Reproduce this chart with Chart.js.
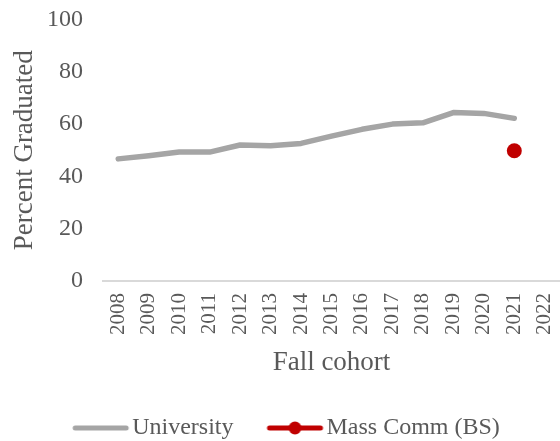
<!DOCTYPE html>
<html lang="en">
<head>
    <meta charset="UTF-8">
    <title>Percent Graduated by Fall cohort</title>
    <script src="https://cdn.jsdelivr.net/npm/chart.js"></script>
    <style>
        * { margin: 0; padding: 0; box-sizing: border-box; }
        body { background: #fff; }
        .wrap { width: 560px; height: 441px; position: relative; }
    </style>
</head>
<body>
    <div class="wrap">
        <canvas id="gradChart"></canvas>
    </div>

    <script>
        // values
        const cohorts = ['2008', '2009', '2010', '2011', '2012', '2013', '2014', '2015',
                         '2016', '2017', '2018', '2019', '2020', '2021', '2022'];
        const university = [46.7, 47.9, 49.3, 49.3, 52.0, 51.7, 52.6, 55.4,
                            58.0, 60.0, 60.5, 64.4, 64.1, 62.2, null];
        const massComm = [null, null, null, null, null, null, null, null,
                          null, null, null, null, null, 49.8, null];
        const yTicks = [0, 20, 40, 60, 80, 100];

        const grey = '#A5A5A5';
        const red = '#C00000';
        const textColor = '#595959';
        const serif = "'Liberation Serif', 'Times New Roman', serif";

        // legend icons: line (and dot), shifted right inside the image
        function legendIcon(color, withDot) {
            const c = document.createElement('canvas');
            c.width = 80; c.height = 16;
            const g = c.getContext('2d');
            g.strokeStyle = color;
            g.lineWidth = 5;
            g.lineCap = 'round';
            g.beginPath(); g.moveTo(25, 8); g.lineTo(76, 8); g.stroke();
            if (withDot) {
                g.fillStyle = color;
                g.beginPath(); g.arc(50.5, 8, 6.5, 0, Math.PI * 2); g.fill();
            }
            return c;
        }
        const icons = [legendIcon(grey, false), legendIcon(red, true)];

        const ctx = document.getElementById('gradChart').getContext('2d');
        new Chart(ctx, {
            type: 'line',
            data: {
                labels: cohorts,
                datasets: [{
                    label: 'University',
                    data: university,
                    borderColor: grey,
                    backgroundColor: grey,
                    borderWidth: 5.5,
                    pointRadius: 0,
                    tension: 0,
                    borderCapStyle: 'round',
                    borderJoinStyle: 'round'
                }, {
                    label: 'Mass Comm (BS)',
                    data: massComm,
                    borderColor: red,
                    backgroundColor: red,
                    borderWidth: 5,
                    pointRadius: 7.5,
                    pointBorderWidth: 0
                }]
            },
            options: {
                responsive: true,
                maintainAspectRatio: false,
                animation: false,
                layout: {
                    autoPadding: false,
                    padding: { left: 0, right: 0, top: 19.5, bottom: 0 }
                },
                plugins: {
                    tooltip: { enabled: false },
                    legend: {
                        position: 'bottom',
                        maxHeight: 46,
                        labels: {
                            color: textColor,
                            font: { family: serif, size: 24 },
                            usePointStyle: true,
                            pointStyleWidth: 60,
                            padding: 21,
                            generateLabels(chart) {
                                return chart.data.datasets.map((ds, i) => ({
                                    text: ds.label,
                                    fontColor: textColor,
                                    pointStyle: icons[i],
                                    datasetIndex: i,
                                    lineWidth: 0,
                                    strokeStyle: 'transparent',
                                    fillStyle: 'transparent'
                                }));
                            }
                        }
                    }
                },
                scales: {
                    x: {
                        offset: true,
                        // the rotated last label doesn't need room on the right
                        afterFit(scale) { scale.paddingRight = 0; },
                        // invisible tick marks give the gap under the axis line
                        grid: { color: 'transparent', drawOnChartArea: false, tickLength: 12 },
                        border: { color: '#D9D9D9', width: 2 },
                        ticks: {
                            color: textColor,
                            font: { family: serif, size: 21 },
                            minRotation: 90,
                            maxRotation: 90,
                            padding: 0,
                            autoSkip: false
                        },
                        title: {
                            display: true,
                            text: 'Fall cohort',
                            color: textColor,
                            font: { family: serif, size: 27 },
                            padding: { top: 11.6, bottom: 16 }
                        }
                    },
                    y: {
                        min: 0,
                        max: 100,
                        afterBuildTicks(axis) {
                            axis.ticks = yTicks.map(v => ({ value: v }));
                        },
                        grid: { color: 'transparent', drawOnChartArea: false, tickLength: 20 },
                        border: { display: false },
                        ticks: {
                            color: textColor,
                            font: { family: serif, size: 24 },
                            padding: 0
                        },
                        title: {
                            display: true,
                            text: 'Percent Graduated',
                            color: textColor,
                            font: { family: serif, size: 27 },
                            padding: { top: 9, bottom: 5.6 }
                        }
                    }
                }
            }
        });
    </script>
</body>
</html>
